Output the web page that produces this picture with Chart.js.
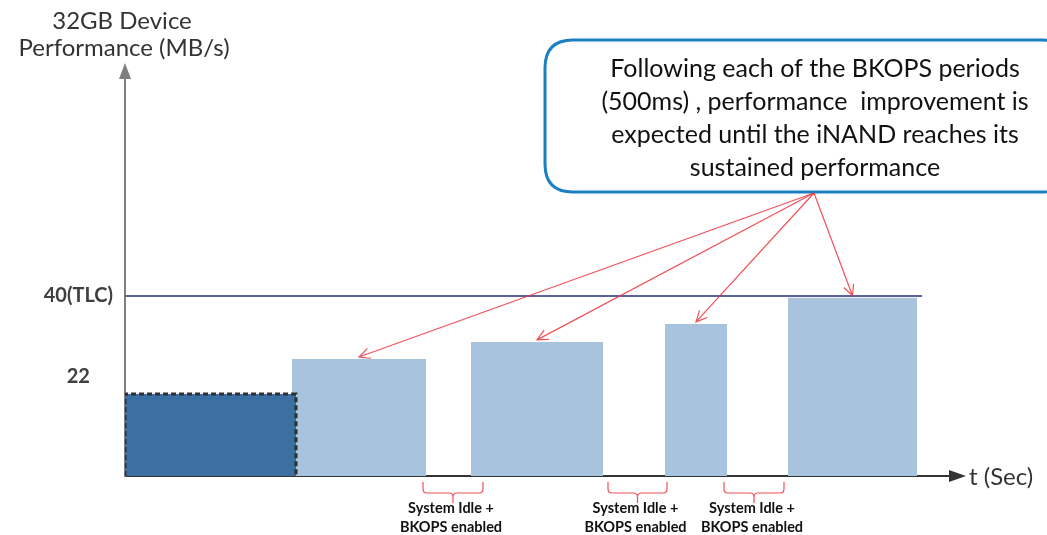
<!DOCTYPE html>
<html>
<head>
<meta charset="utf-8">
<script src="https://cdn.jsdelivr.net/npm/chart.js@4"></script>
<style>
  html, body { margin: 0; background: #fff; }
  #wrap { width: 1047px; height: 535px; }
</style>
</head>
<body>
<div id="wrap"><canvas id="perfChart"></canvas></div>
<script>
// phases of the write run (time in arbitrary units along t)
const phases = ['Burst', 'After BKOPS 1', 'After BKOPS 2', 'After BKOPS 3', 'Sustained'];
const phaseStart = [0, 16.7, 34.6, 54, 66.3];
const phaseEnd = [17.1, 30.1, 47.8, 60.2, 79.2];
const perf = [18.2, 26, 29.8, 33.8, 39.6];

// sustained TLC level
const tlcLevel = 40;
const tlcSpan = [0, 79.7];

// idle + BKOPS periods
const idleStart = [29.8, 48.3, 59.9];
const idleEnd = [35.8, 54.2, 65.9];
const idleLabel = ['System Idle +', 'BKOPS enabled'];

const tickValues = [22, 40];
const tickLabels = ['22', '40(TLC)'];

const calloutText = [
    'Following each of the BKOPS periods',
    '(500ms) , performance  improvement is',
    'expected until the iNAND reaches its',
    'sustained performance'
];

const barDatasets = phases.map((p, i) => ({
    label: p,
    data: [
        {x: phaseStart[i], y: 0},
        {x: phaseStart[i], y: perf[i]},
        {x: phaseEnd[i], y: perf[i]},
        {x: phaseEnd[i], y: 0}
    ],
    fill: 'origin',
    backgroundColor: i === 0 ? '#3c70a3' : '#a7c3dd',
    borderColor: i === 0 ? '#2e2e2e' : 'rgba(0,0,0,0)',
    borderWidth: i === 0 ? 3 : 0,
    borderDash: i === 0 ? [5, 3] : [],
    pointRadius: 0,
    tension: 0
}));

function arrow(ctx, x0, y0, x1, y1) {
    const a = Math.atan2(y1 - y0, x1 - x0);
    ctx.beginPath();
    ctx.moveTo(x0, y0);
    ctx.lineTo(x1, y1);
    ctx.moveTo(x1 - 12 * Math.cos(a - 0.45), y1 - 12 * Math.sin(a - 0.45));
    ctx.lineTo(x1, y1);
    ctx.lineTo(x1 - 12 * Math.cos(a + 0.45), y1 - 12 * Math.sin(a + 0.45));
    ctx.stroke();
}

const decorations = {
    id: 'decorations',
    afterDraw(chart) {
        const ctx = chart.ctx;
        const area = chart.chartArea;
        const xs = chart.scales.x;
        const ys = chart.scales.y;
        ctx.save();

        // axis arrowheads
        ctx.fillStyle = '#7f7f7f';
        ctx.beginPath();
        ctx.moveTo(area.left, 63);
        ctx.lineTo(area.left - 6, 79);
        ctx.lineTo(area.left + 6, 79);
        ctx.closePath();
        ctx.fill();
        ctx.strokeStyle = '#7f7f7f';
        ctx.lineWidth = 2;
        ctx.beginPath();
        ctx.moveTo(area.left, area.top);
        ctx.lineTo(area.left, 78);
        ctx.stroke();

        ctx.strokeStyle = '#333';
        ctx.fillStyle = '#333';
        ctx.beginPath();
        ctx.moveTo(area.right, area.bottom);
        ctx.lineTo(950, area.bottom);
        ctx.stroke();
        ctx.beginPath();
        ctx.moveTo(966, area.bottom);
        ctx.lineTo(949, area.bottom - 6);
        ctx.lineTo(949, area.bottom + 6);
        ctx.closePath();
        ctx.fill();

        ctx.font = '24px Lato';
        ctx.textAlign = 'left';
        ctx.textBaseline = 'middle';
        ctx.fillText('t (Sec)', 969, area.bottom + 1);

        // y axis title
        ctx.fillStyle = '#333';
        ctx.font = '24px Lato';
        ctx.textAlign = 'center';
        ctx.fillText('32GB Device', 122, 21);
        ctx.fillText('Performance (MB/s)', 124, 48);

        // callout box
        const bx0 = 545, by0 = 40, bx1 = 1070, by1 = 192, r = 28;
        ctx.strokeStyle = '#1b7fc3';
        ctx.lineWidth = 3;
        ctx.beginPath();
        ctx.moveTo(bx0 + r, by0);
        ctx.lineTo(bx1 - r, by0);
        ctx.quadraticCurveTo(bx1, by0, bx1, by0 + r);
        ctx.lineTo(bx1, by1 - r);
        ctx.quadraticCurveTo(bx1, by1, bx1 - r, by1);
        ctx.lineTo(bx0 + r, by1);
        ctx.quadraticCurveTo(bx0, by1, bx0, by1 - r);
        ctx.lineTo(bx0, by0 + r);
        ctx.quadraticCurveTo(bx0, by0, bx0 + r, by0);
        ctx.closePath();
        ctx.stroke();

        ctx.fillStyle = '#111';
        ctx.font = '25px Lato';
        calloutText.forEach((t, i) => ctx.fillText(t, 815, 69 + i * 33));

        // arrows from callout to the recovered bars
        ctx.strokeStyle = 'rgba(240,50,60,0.85)';
        ctx.lineWidth = 1.2;
        for (let i = 1; i < phases.length; i++) {
            const cx = xs.getPixelForValue((phaseStart[i] + phaseEnd[i]) / 2);
            const cy = ys.getPixelForValue(perf[i]) - 2;
            arrow(ctx, 814, 193, cx, cy);
        }

        // idle brackets
        ctx.strokeStyle = '#f0505a';
        ctx.lineWidth = 1.2;
        const yTop = area.bottom + 6, yMid = area.bottom + 17, yTip = area.bottom + 27;
        idleStart.forEach((s, i) => {
            const x0 = xs.getPixelForValue(s);
            const x1 = xs.getPixelForValue(idleEnd[i]);
            const m = (x0 + x1) / 2;
            ctx.beginPath();
            ctx.moveTo(x0, yTop);
            ctx.lineTo(x0, yMid - 4);
            ctx.quadraticCurveTo(x0, yMid, x0 + 4, yMid);
            ctx.lineTo(m - 4, yMid);
            ctx.quadraticCurveTo(m, yMid, m, yMid + 4);
            ctx.lineTo(m, yTip);
            ctx.moveTo(m, yMid + 4);
            ctx.quadraticCurveTo(m, yMid, m + 4, yMid);
            ctx.lineTo(x1 - 4, yMid);
            ctx.quadraticCurveTo(x1, yMid, x1, yMid - 4);
            ctx.lineTo(x1, yTop);
            ctx.stroke();

            ctx.fillStyle = '#111';
            ctx.font = 'bold 14.5px Lato';
            ctx.fillText(idleLabel[0], m - 2, area.bottom + 32);
            ctx.fillText(idleLabel[1], m - 2, area.bottom + 51);
        });

        ctx.restore();
    }
};

new Chart(document.getElementById('perfChart'), {
    type: 'line',
    data: {
        datasets: barDatasets.concat([{
            label: '40(TLC)',
            data: tlcSpan.map(x => ({x: x, y: tlcLevel})),
            borderColor: '#5a62a2',
            borderWidth: 2,
            pointRadius: 0,
            fill: false
        }])
    },
    options: {
        responsive: true,
        maintainAspectRatio: false,
        animation: false,
        layout: {padding: {left: 0, right: 102, top: 71, bottom: 59}},
        plugins: {
            legend: {display: false},
            tooltip: {enabled: false}
        },
        scales: {
            x: {
                type: 'linear',
                min: 0,
                max: 82,
                grid: {display: false, drawTicks: false},
                ticks: {display: false},
                border: {display: true, color: '#333', width: 2},
                afterFit: s => { s.height = 0; }
            },
            y: {
                type: 'linear',
                min: 0,
                max: 90,
                grid: {display: false, drawTicks: false},
                border: {display: true, color: '#7f7f7f', width: 2},
                afterBuildTicks: s => { s.ticks = tickValues.map(v => ({value: v})); },
                afterFit: s => { s.width = 125; },
                ticks: {
                    crossAlign: 'center',
                    padding: 12,
                    color: '#404040',
                    font: {family: 'Lato', size: 20, weight: 'bold'},
                    callback: v => tickLabels[tickValues.indexOf(v)]
                }
            }
        }
    },
    plugins: [decorations]
});
</script>
</body>
</html>
